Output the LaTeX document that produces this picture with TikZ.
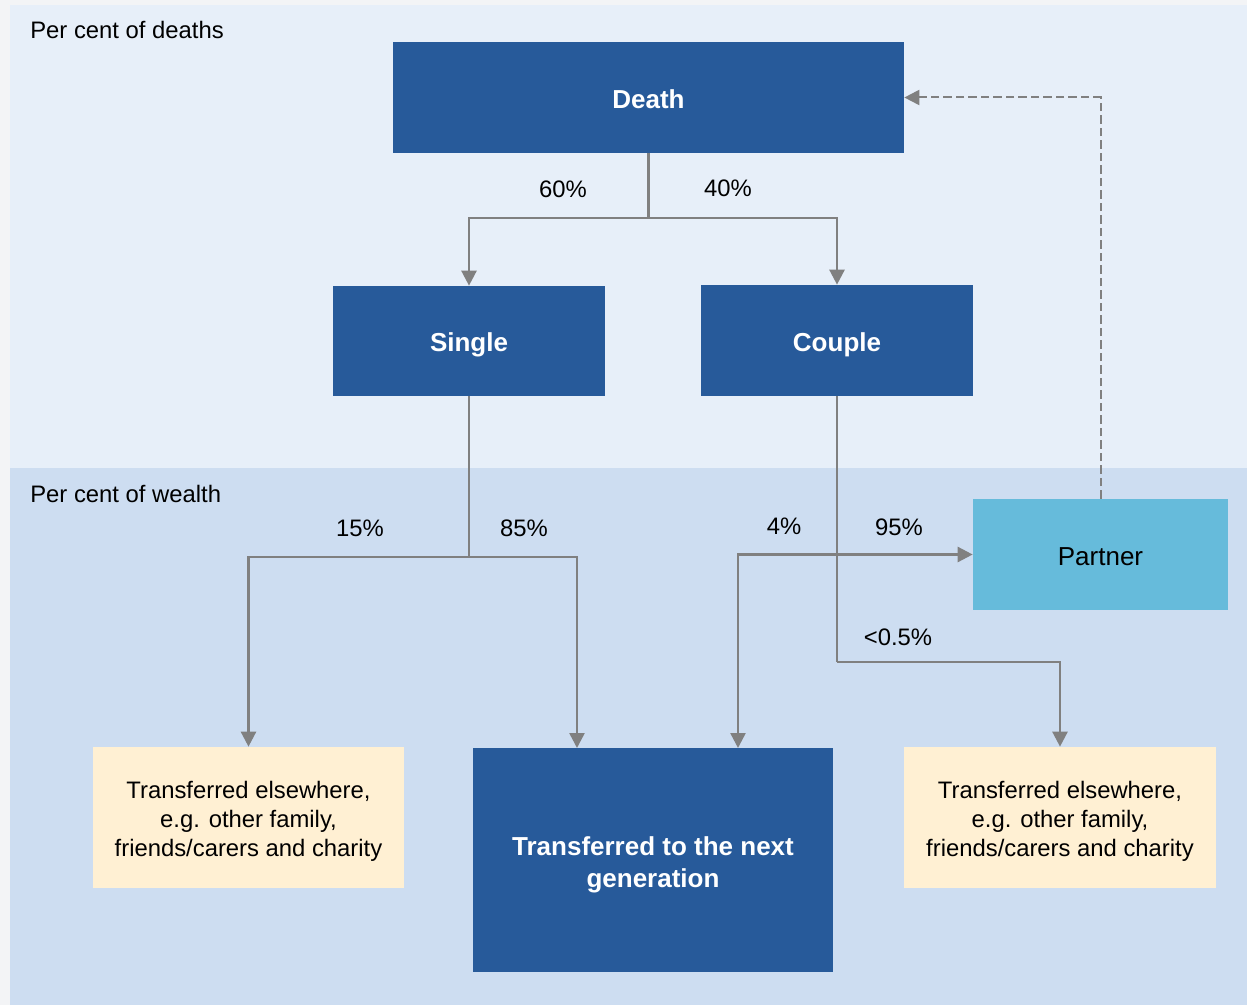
\documentclass[tikz,border=0pt]{standalone}
\usepackage{fontspec}
\setmainfont{Liberation Sans}
\usetikzlibrary{arrows.meta}
\definecolor{outerbg}{HTML}{F3F4F6}
\definecolor{deathbg}{HTML}{E7EFF9}
\definecolor{wealthbg}{HTML}{CDDDF1}
\definecolor{darkblue}{HTML}{275A9A}
\definecolor{lightblue}{HTML}{66BBDB}
\definecolor{cream}{HTML}{FFF0D3}
\definecolor{linegray}{HTML}{808080}
\begin{document}
\begin{tikzpicture}[
	x=0.6pt, y=-0.6pt,
	every node/.style={font=\fontsize{14.3}{17.4}\selectfont, inner sep=0pt},
	darkbox/.style={shape=rectangle, fill=darkblue, text=white, align=center, font=\fontsize{15.6}{19.2}\selectfont\bfseries},
	partnerbox/.style={shape=rectangle, fill=lightblue, text=black, align=center, font=\fontsize{15.6}{19.2}\selectfont},
	otherbox/.style={shape=rectangle, fill=cream, text=black, align=center, minimum width=187pt, minimum height=84.6pt},
	link/.style={draw=linegray, line width=1.5pt},
	>={Triangle[length=9pt,width=9pt]},
]
\useasboundingbox (0,0) rectangle (1247,1005);
\fill[outerbg] (0,0) rectangle (1247,1005);
\fill[deathbg] (10,5) rectangle (1247,468);
\fill[wealthbg] (10,468) rectangle (1247,1005);
\node[anchor=west] (deathshead) at (30,30) {Per cent of deaths};
\node[anchor=west] (wealthhead) at (30,494) {Per cent of wealth};

\node[darkbox, minimum width=306.6pt, minimum height=66.6pt, text height=13.6pt, text depth=0pt] (death) at (648.5,97.5) {Death};
\node[darkbox, minimum width=163.2pt, minimum height=66pt, text height=12.7pt, text depth=0pt] (single) at (469,341) {Single};
\node[darkbox, minimum width=163.2pt, minimum height=66.6pt, text height=12.7pt, text depth=0pt] (couple) at (837,340.5) {Couple};
\node[partnerbox, minimum width=153pt, minimum height=66.6pt, text height=13.6pt, text depth=0pt] (partner) at (1100.5,554.5) {Partner};
\node[otherbox] (leftother) at (248.5,817.5) {\rule{0pt}{15pt}Transferred elsewhere,\\e.g. other family,\\friends/carers and charity};
\node[otherbox] (rightother) at (1060,817.5) {\rule{0pt}{15pt}Transferred elsewhere,\\e.g. other family,\\friends/carers and charity};
\node[darkbox, minimum width=216pt, minimum height=134.4pt] (nextgen) at (653,860) {\rule{0pt}{17.4pt}Transferred to the next\\generation};

\coordinate (deathfork) at (648.5,218);
\coordinate (singlefork) at (469,557);
\coordinate (couplebend) at (837,662);
\coordinate (nextgenleft) at (577,748);
\coordinate (nextgenright) at (738,748);

\draw[link] (death.south) -- (deathfork);
\draw[link, ->] (deathfork) -| (single.north);
\draw[link, ->] (deathfork) -| (couple.north);
\draw[link] (single.south) -- (singlefork);
\draw[link, ->] (singlefork) -| (leftother.north);
\draw[link, ->] (singlefork) -| (nextgenleft);
\draw[link] (couple.south) -- (couplebend);
\draw[link, ->] (couplebend) -| (rightother.north);
\draw[link, <->] (partner.west) -| (nextgenright);
\draw[link, dashed, dash pattern=on 5pt off 2.5pt, line width=1.2pt, ->] (partner.north) |- (death.east);

\node (pctsingle) at (563,189) {60\%};
\node (pctcouple) at (728,188) {40\%};
\node (pctleftother) at (360,528) {15\%};
\node (pctsinglegen) at (524,528) {85\%};
\node (pctcouplegen) at (784,526) {4\%};
\node (pctpartner) at (899,527) {95\%};
\node (pctrightother) at (898,637) {<0.5\%};
\end{tikzpicture}
\end{document}
